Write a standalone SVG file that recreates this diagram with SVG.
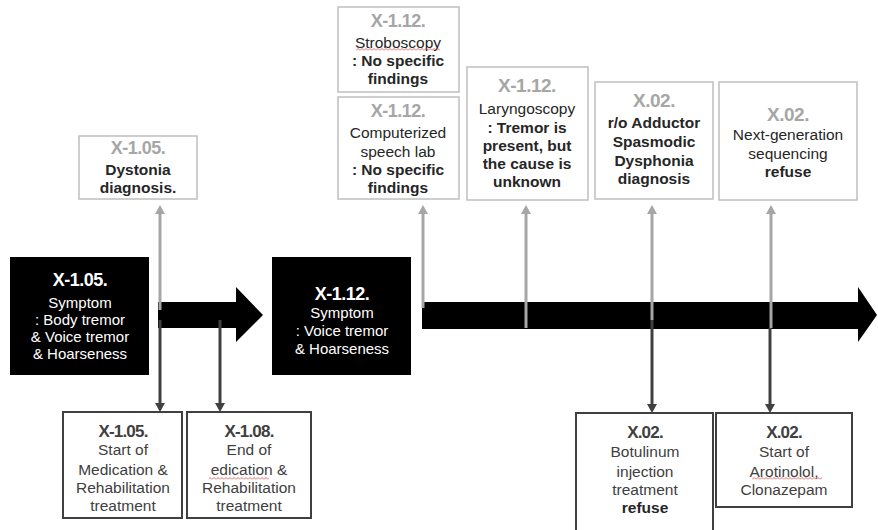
<svg xmlns="http://www.w3.org/2000/svg" width="878" height="530" viewBox="0 0 878 530">
<defs>
<style>
text{font-family:"Liberation Sans",Arial,sans-serif;font-size:15.5px;text-anchor:middle;fill:#262626}
.b{font-weight:700}
.gh{font-size:18px;font-weight:700;fill:#a6a6a6;letter-spacing:-0.5px}
.dh{font-size:17px;font-weight:700;fill:#404040;letter-spacing:-0.8px}
.wh{font-size:18px;font-weight:700;fill:#ffffff;letter-spacing:-0.5px}
.w{fill:#ffffff;font-size:15px}
.dk{fill:#404040}
.top{fill:#ffffff;stroke:#bfbfbf;stroke-width:1.5}
.bot{fill:#ffffff;stroke:#404040;stroke-width:2}
.blk{fill:#000000}
.ga{stroke:#a6a6a6;stroke-width:3;fill:none;marker-end:url(#gm)}
.da{stroke:#404040;stroke-width:3;fill:none;marker-end:url(#dm)}
</style>
<marker id="gm" markerUnits="userSpaceOnUse" markerWidth="10" markerHeight="10" refX="0" refY="5" orient="auto" viewBox="0 0 10 10">
<path d="M0,0 L9,5 L0,10 z" fill="#a6a6a6"/>
</marker>
<marker id="dm" markerUnits="userSpaceOnUse" markerWidth="10" markerHeight="10" refX="0" refY="5" orient="auto" viewBox="0 0 10 10">
<path d="M0,0 L9,5 L0,10 z" fill="#404040"/>
</marker>
<pattern id="sq" width="4" height="3" patternUnits="userSpaceOnUse">
<path d="M0,2.5 L2,0.5 L4,2.5" stroke="#e04040" stroke-width="0.8" fill="none"/>
</pattern>
</defs>

<g id="timeline">
<path class="blk" d="M158,302 H236 V287 L263,315 L236,342 V328 H158 Z"/>
<path class="blk" d="M422,302 H858 V287 L877,315 L858,342 V329 H422 Z"/>
</g>

<g id="node-symptom1">
<rect class="blk" x="10" y="257" width="139" height="118"/>
<text class="wh" x="80" y="286">X-1.05.</text>
<text class="w" x="80" y="308">Symptom</text>
<text class="w" x="80" y="325">: Body tremor</text>
<text class="w" x="80" y="342">&amp; Voice tremor</text>
<text class="w" x="80" y="359">&amp; Hoarseness</text>
</g>

<g id="node-symptom2">
<rect class="blk" x="272" y="257" width="139" height="118"/>
<text class="wh" x="342" y="300">X-1.12.</text>
<text class="w" x="342" y="318">Symptom</text>
<text class="w" x="342" y="336">: Voice tremor</text>
<text class="w" x="342" y="354">&amp; Hoarseness</text>
</g>

<g id="node-dystonia">
<rect class="top" x="79" y="136" width="118" height="63"/>
<text class="gh" x="138" y="154">X-1.05.</text>
<text class="b" x="138" y="175">Dystonia</text>
<text class="b" x="138" y="193">diagnosis.</text>
</g>

<g id="node-stroboscopy">
<rect class="top" x="338" y="7" width="121" height="85"/>
<text class="gh" x="398" y="27">X-1.12.</text>
<text x="398" y="48">Stroboscopy</text>
<rect x="356" y="48" width="84" height="3" fill="url(#sq)"/>
<text class="b" x="398" y="66">: No specific</text>
<text class="b" x="398" y="84">findings</text>
</g>

<g id="node-speechlab">
<rect class="top" x="338" y="97" width="121" height="102"/>
<text class="gh" x="398" y="117">X-1.12.</text>
<text x="398" y="138">Computerized</text>
<text x="398" y="157">speech lab</text>
<text class="b" x="398" y="175">: No specific</text>
<text class="b" x="398" y="193">findings</text>
</g>

<g id="node-laryngoscopy">
<rect class="top" x="467" y="67" width="121" height="133"/>
<text class="gh" x="527" y="92" style="font-size:19px">X-1.12.</text>
<text x="527" y="114">Laryngoscopy</text>
<text class="b" x="527" y="133">: Tremor is</text>
<text class="b" x="527" y="151">present, but</text>
<text class="b" x="527" y="169">the cause is</text>
<text class="b" x="527" y="187">unknown</text>
</g>

<g id="node-adductor">
<rect class="top" x="595" y="82" width="118" height="117"/>
<text class="gh" x="654" y="107" style="font-size:19px">X.02.</text>
<text class="b" x="654" y="128">r/o Adductor</text>
<text class="b" x="654" y="147">Spasmodic</text>
<text class="b" x="654" y="166">Dysphonia</text>
<text class="b" x="654" y="184">diagnosis</text>
</g>

<g id="node-ngs">
<rect class="top" x="719" y="82" width="138" height="118"/>
<text class="gh" x="788" y="121" style="font-size:19px">X.02.</text>
<text x="788" y="140">Next-generation</text>
<text x="788" y="159">sequencing</text>
<text class="b" x="788" y="177">refuse</text>
</g>

<g id="node-start-med">
<rect class="bot" x="63" y="412" width="119" height="106"/>
<text class="dh" x="123" y="437">X-1.05.</text>
<text class="dk" x="123" y="455">Start of</text>
<text class="dk" x="123" y="475">Medication &amp;</text>
<text class="dk" x="123" y="493">Rehabilitation</text>
<text class="dk" x="123" y="511">treatment</text>
</g>

<g id="node-end-med">
<rect class="bot" x="187" y="412" width="124" height="106"/>
<text class="dh" x="249" y="437">X-1.08.</text>
<text class="dk" x="249" y="455">End of</text>
<text class="dk" x="249" y="475">edication &amp;</text>
<rect x="209" y="477" width="60" height="3" fill="url(#sq)"/>
<text class="dk" x="249" y="493">Rehabilitation</text>
<text class="dk" x="249" y="511">treatment</text>
</g>

<g id="node-botulinum">
<rect class="bot" x="576" y="413" width="137" height="122"/>
<text class="dh" x="645" y="438">X.02.</text>
<text class="dk" x="645" y="457">Botulinum</text>
<text class="dk" x="645" y="477">injection</text>
<text class="dk" x="645" y="495">treatment</text>
<text class="b" x="645" y="513">refuse</text>
</g>

<g id="node-arotinolol">
<rect class="bot" x="716" y="413" width="136" height="94"/>
<text class="dh" x="784" y="438">X.02.</text>
<text class="dk" x="784" y="457">Start of</text>
<text class="dk" x="784" y="477">Arotinolol,</text>
<rect x="752" y="477" width="70" height="3" fill="url(#sq)"/>
<text class="dk" x="784" y="495">Clonazepam</text>
</g>

<g id="connectors">
<line class="ga" x1="160" y1="310" x2="160" y2="214"/>
<line class="ga" x1="423" y1="308" x2="423" y2="214"/>
<line class="ga" x1="526" y1="328" x2="526" y2="214"/>
<line class="ga" x1="652" y1="320" x2="652" y2="214"/>
<line class="ga" x1="771" y1="328" x2="771" y2="214"/>
<line class="da" x1="160" y1="320" x2="160" y2="403"/>
<line class="da" x1="220" y1="320" x2="220" y2="403"/>
<line class="da" x1="652" y1="320" x2="652" y2="404"/>
<line class="da" x1="770" y1="328" x2="770" y2="404"/>
</g>
</svg>
